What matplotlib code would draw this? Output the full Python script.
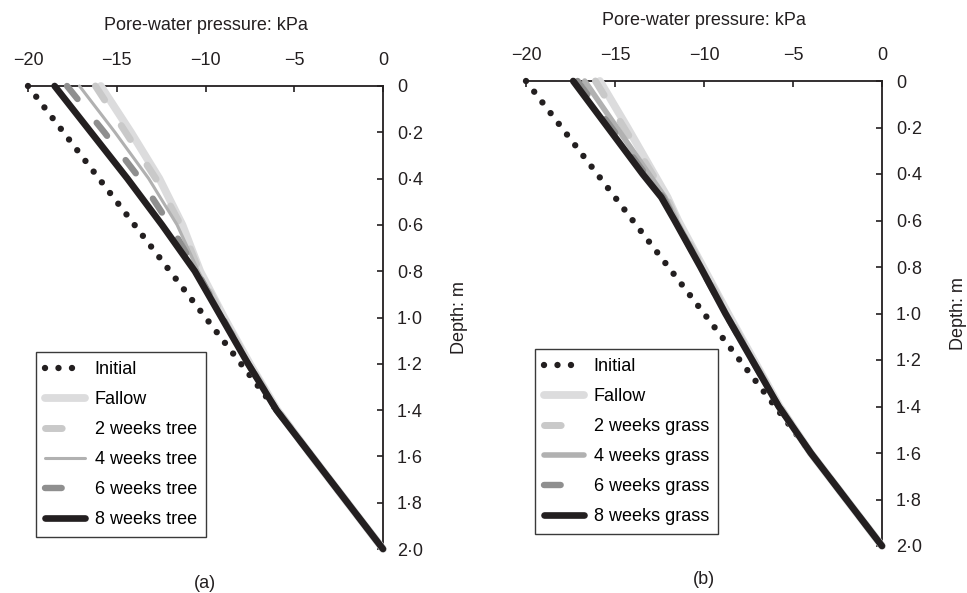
import matplotlib
matplotlib.use("Agg")
import matplotlib.pyplot as plt

plt.rcParams['font.family'] = ['Liberation Sans', 'DejaVu Sans']
plt.rcParams['lines.scale_dashes'] = False

# ---------------- data ----------------
x_ticks = [-20, -15, -10, -5, 0]
x_tick_labels = ['\u221220', '\u221215', '\u221210', '\u22125', '0']
y_ticks = [0, 0.2, 0.4, 0.6, 0.8, 1.0, 1.2, 1.4, 1.6, 1.8, 2.0]
y_tick_labels = ['0', '0\u00b72', '0\u00b74', '0\u00b76', '0\u00b78', '1\u00b70',
                 '1\u00b72', '1\u00b74', '1\u00b76', '1\u00b78', '2\u00b70']

depth_initial = [0.0, 2.0]
initial = [-20.0, 0.0]

depth_a = [0.0, 0.2, 0.4, 0.6, 0.8, 1.0, 1.2, 1.4, 1.6, 1.8, 2.0]
fallow_a = [-15.9, -14.2, -12.6, -11.3, -10.3, -8.95, -7.5, -5.95, -4.0, -2.0, 0.0]
tree2_a = [-16.2, -14.5, -12.8, -11.4, -10.35, -9.0, -7.55, -5.95, -4.0, -2.0, 0.0]
tree4_a = [-17.1, -15.1, -13.2, -11.6, -10.4, -9.0, -7.55, -6.0, -4.0, -2.0, 0.0]
tree6_a = [-17.8, -15.7, -13.7, -12.0, -10.5, -9.05, -7.6, -6.0, -4.0, -2.0, 0.0]
tree8_a = [-18.5, -16.45, -14.4, -12.45, -10.6, -9.1, -7.6, -6.0, -4.0, -2.0, 0.0]

depth_b = [0.0, 0.2, 0.4, 0.5, 0.6, 0.8, 1.0, 1.2, 1.4, 1.6, 1.8, 2.0]
fallow_b = [-15.85, -14.3, -12.8, -12.05, -11.45, -10.05, -8.65, -7.2, -5.75, -4.0, -2.0, 0.0]
grass2_b = [-16.1, -14.5, -12.9, -12.1, -11.5, -10.1, -8.7, -7.25, -5.75, -4.0, -2.0, 0.0]
grass4_b = [-16.7, -14.9, -13.1, -12.2, -11.55, -10.15, -8.75, -7.25, -5.8, -4.0, -2.0, 0.0]
grass6_b = [-17.1, -15.2, -13.3, -12.3, -11.6, -10.2, -8.8, -7.3, -5.8, -4.0, -2.0, 0.0]
grass8_b = [-17.35, -15.4, -13.45, -12.4, -11.65, -10.2, -8.8, -7.3, -5.8, -4.0, -2.0, 0.0]

labels_a = ['Initial', 'Fallow', '2 weeks tree', '4 weeks tree', '6 weeks tree', '8 weeks tree']
labels_b = ['Initial', 'Fallow', '2 weeks grass', '4 weeks grass', '6 weeks grass', '8 weeks grass']

# ---------------- styles ----------------
BLACK = '#231f20'
C_FALLOW = '#dcdcdd'
C_2W = '#c9c9c9'
C_4W = '#b1b1b1'
C_6W = '#8f8f8f'
DASH = (0, (12, 22))
DOTS = (0, (0.01, 9.7))

FS = 13

fig = plt.figure(figsize=(9.67, 5.93), dpi=100)


def panel(rect, depth, series, labels, lw4, legend_anchor, caption, cap_xy):
    ax = fig.add_axes(rect)
    ax.set_xlim(-20, 0)
    ax.set_ylim(2.0, 0)
    lines = []
    l, = ax.plot(initial, depth_initial, color=BLACK, lw=4.6, linestyle=DOTS,
                 dash_capstyle='round', solid_capstyle='round', clip_on=False, zorder=2)
    lines.append(l)
    styles = [
        dict(color=C_FALLOW, lw=5.6, linestyle='-'),
        dict(color=C_2W, lw=5.0, linestyle=DASH),
        dict(color=C_4W, lw=lw4, linestyle='-'),
        dict(color=C_6W, lw=4.6, linestyle=DASH),
        dict(color=BLACK, lw=4.8, linestyle='-'),
    ]
    for vals, st in zip(series, styles):
        l, = ax.plot(vals, depth, solid_capstyle='round', dash_capstyle='round',
                     clip_on=False, zorder=3, **st)
        lines.append(l)

    for s in ['left', 'bottom']:
        ax.spines[s].set_visible(False)
    for s in ['top', 'right']:
        ax.spines[s].set_linewidth(1.3)
        ax.spines[s].set_color(BLACK)

    ax.xaxis.tick_top()
    ax.yaxis.tick_right()
    ax.set_xticks(x_ticks)
    ax.set_xticklabels(x_tick_labels)
    ax.set_yticks(y_ticks)
    ax.set_yticklabels(y_tick_labels)
    ax.tick_params(axis='x', direction='in', length=4, width=1.2, pad=12,
                   labelsize=FS, colors=BLACK, labelcolor='#231f20')
    ax.tick_params(axis='y', direction='in', length=4, width=1.2, pad=10,
                   labelsize=FS, colors=BLACK, labelcolor='#231f20')
    ax.xaxis.set_label_position('top')
    ax.set_xlabel('Pore-water pressure: kPa', fontsize=FS, labelpad=16, color=BLACK)
    ax.yaxis.set_label_position('right')
    ax.set_ylabel('Depth: m', fontsize=FS, labelpad=20, color=BLACK, rotation=90)

    leg = ax.legend(lines, labels, loc='lower left',
                    bbox_to_anchor=legend_anchor, bbox_transform=fig.transFigure,
                    fontsize=FS, frameon=True, fancybox=False, framealpha=1,
                    edgecolor='#3a3a3a', borderaxespad=0, borderpad=0.5,
                    labelspacing=0.72, handlelength=2.2, handletextpad=0.55)
    leg.get_frame().set_linewidth(1.0)
    fig.text(cap_xy[0], cap_xy[1], caption, ha='center', va='center',
             fontsize=FS, color=BLACK)
    return ax


W, H = 967.0, 593.0
panel([28 / W, 1 - 549 / H, 355 / W, 463 / H], depth_a,
      [fallow_a, tree2_a, tree4_a, tree6_a, tree8_a], labels_a, 2.2,
      (36 / W, 1 - 537 / H), '(a)', (205 / W, 1 - 583 / H))
panel([526 / W, 1 - 546 / H, 356 / W, 465 / H], depth_b,
      [fallow_b, grass2_b, grass4_b, grass6_b, grass8_b], labels_b, 4.0,
      (535 / W, 1 - 534 / H), '(b)', (704 / W, 1 - 579 / H))

fig.savefig('out.png', dpi=100)
